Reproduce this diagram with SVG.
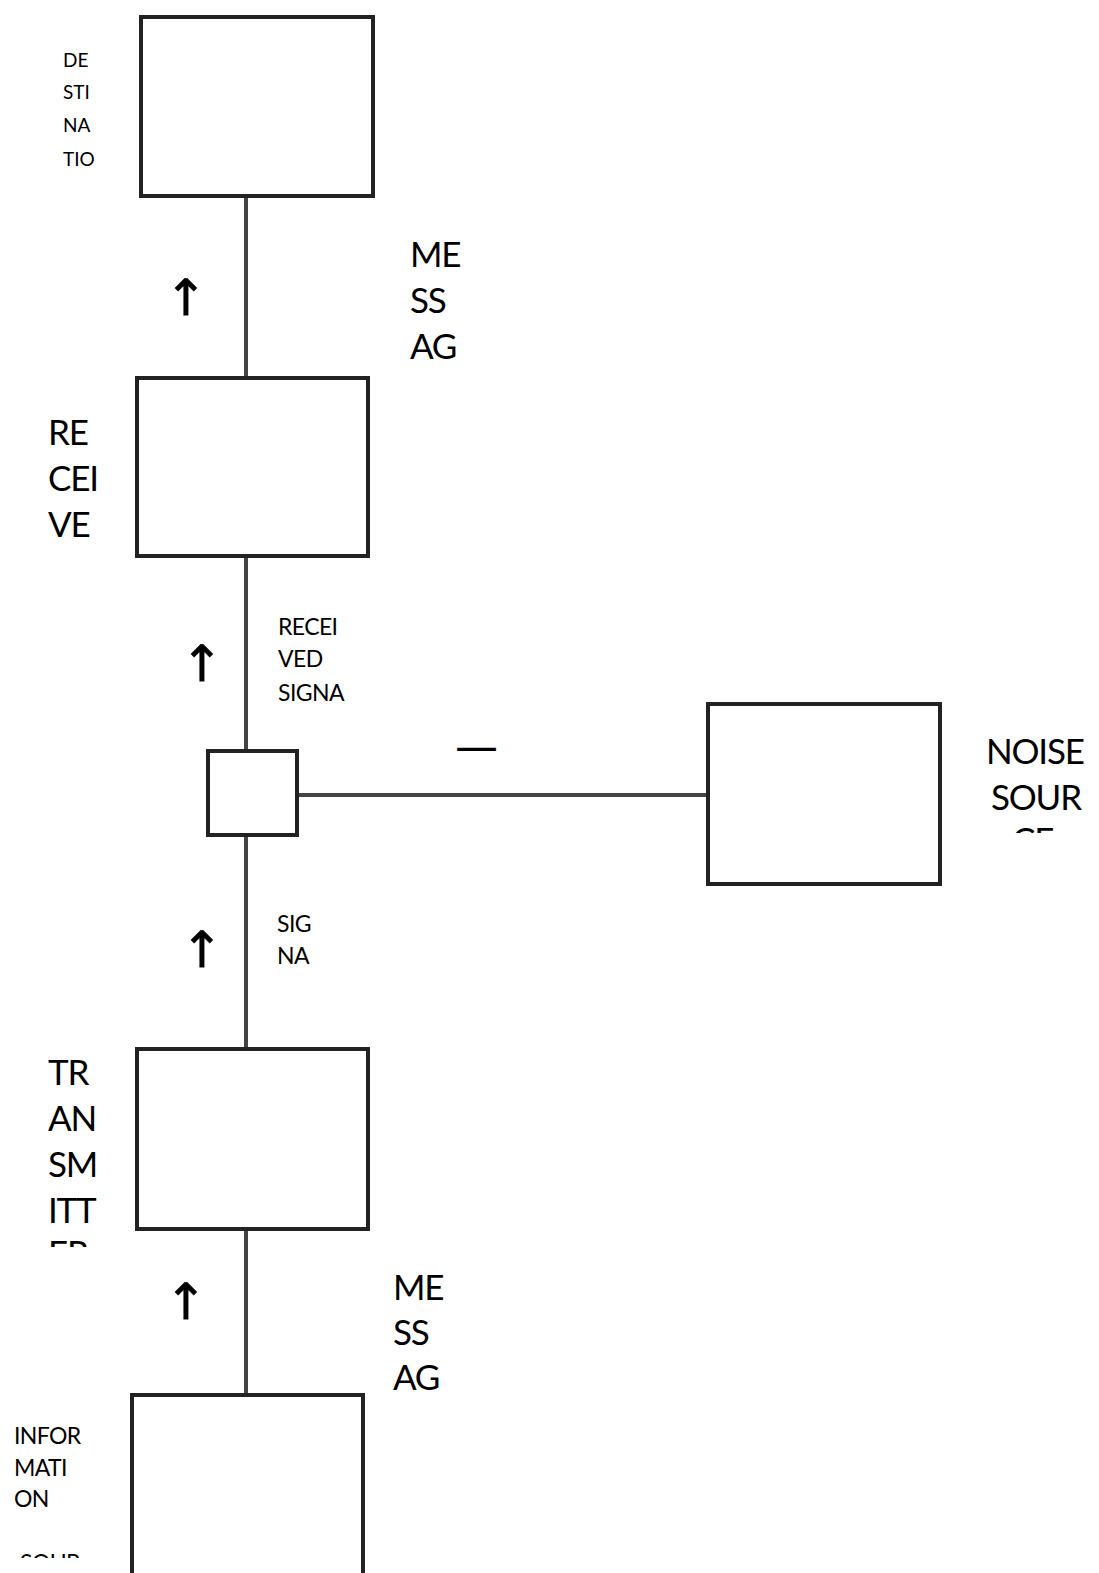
<svg xmlns="http://www.w3.org/2000/svg" width="1099" height="1573" viewBox="0 0 1099 1573">
<style>
.box{fill:#fff;stroke:#222;stroke-width:4}
.con{stroke:#444;stroke-width:4;fill:none}
.sm{font-family:Lato,"Open Sans",sans-serif;font-size:23px;letter-spacing:-0.6px;fill:#000}
.xs{font-family:Lato,"Open Sans",sans-serif;font-size:19px;fill:#000}
.lg{font-family:Lato,"Open Sans",sans-serif;font-size:35px;letter-spacing:-1.2px;fill:#000}
.arr{font-family:"DejaVu Sans",sans-serif;font-size:50px;fill:#000;stroke:#000;stroke-width:0.8;text-anchor:middle}
</style>
<defs>
<clipPath id="clipNoise"><rect x="960" y="700" width="139" height="133"/></clipPath>
<clipPath id="clipTx"><rect x="0" y="1040" width="130" height="207"/></clipPath>
<clipPath id="clipInfo"><rect x="0" y="1400" width="130" height="158"/></clipPath>
</defs>
<rect width="1099" height="1573" fill="#fff"/>
<g id="connectors">
<line class="con" x1="246" y1="196" x2="246" y2="378"/>
<line class="con" x1="246" y1="556" x2="246" y2="750"/>
<line class="con" x1="246" y1="835" x2="246" y2="1049"/>
<line class="con" x1="246" y1="1229" x2="246" y2="1395"/>
<line class="con" x1="297" y1="795" x2="708" y2="795"/>
</g>
<g id="destination">
<rect class="box" x="141" y="17" width="232" height="179"/>
<text class="xs"><tspan x="63" y="67">DE</tspan><tspan x="63" y="99">STI</tspan><tspan x="63" y="132">NA</tspan><tspan x="63" y="166">TIO</tspan></text>
</g>
<g id="receiver">
<rect class="box" x="137" y="378" width="231" height="178"/>
<text class="lg"><tspan x="48" y="445">RE</tspan><tspan x="48" y="491">CEI</tspan><tspan x="48" y="537">VE</tspan></text>
</g>
<g id="junction">
<rect class="box" x="208" y="751" width="89" height="84"/>
</g>
<g id="noise">
<rect class="box" x="708" y="704" width="232" height="180"/>
<text class="lg" clip-path="url(#clipNoise)"><tspan x="986" y="764">NOISE</tspan><tspan x="991" y="810">SOUR</tspan><tspan x="1012" y="853">CE</tspan></text>
</g>
<g id="transmitter">
<rect class="box" x="137" y="1049" width="231" height="180"/>
<text class="lg" clip-path="url(#clipTx)"><tspan x="48" y="1085">TR</tspan><tspan x="48" y="1131">AN</tspan><tspan x="48" y="1177">SM</tspan><tspan x="48" y="1223">ITT</tspan><tspan x="48" y="1266">ER</tspan></text>
</g>
<g id="information-source">
<rect class="box" x="132" y="1395" width="231" height="190"/>
<text class="sm" clip-path="url(#clipInfo)"><tspan x="14" y="1444">INFOR</tspan><tspan x="14" y="1476">MATI</tspan><tspan x="14" y="1507">ON</tspan><tspan x="20" y="1571">SOUR</tspan></text>
</g>
<g id="labels">
<text class="lg"><tspan x="410" y="267">ME</tspan><tspan x="410" y="313">SS</tspan><tspan x="410" y="359">AG</tspan></text>
<text class="sm"><tspan x="278" y="635">RECEI</tspan><tspan x="278" y="667">VED</tspan><tspan x="278" y="701">SIGNA</tspan></text>
<text class="sm"><tspan x="277" y="932">SIG</tspan><tspan x="277" y="964">NA</tspan></text>
<text class="lg"><tspan x="393" y="1300">ME</tspan><tspan x="393" y="1345">SS</tspan><tspan x="393" y="1390">AG</tspan></text>
<text class="arr" x="186" y="315">↑</text>
<text class="arr" x="202" y="681">↑</text>
<text class="arr" x="202" y="967">↑</text>
<text class="arr" x="186" y="1319">↑</text>
<text x="455" y="762" font-family="DejaVu Sans,sans-serif" font-size="44" textLength="43" lengthAdjust="spacingAndGlyphs">—</text>
</g>
</svg>
